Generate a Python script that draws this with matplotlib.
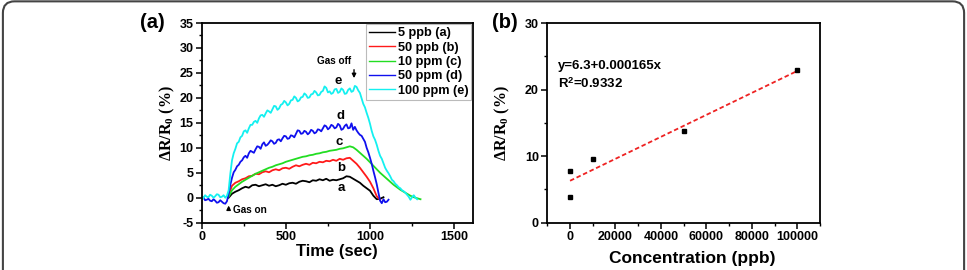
import numpy as np
import matplotlib
matplotlib.use("Agg")
import matplotlib.pyplot as plt
from matplotlib.patches import FancyBboxPatch
from matplotlib.ticker import MultipleLocator

plt.rcParams['font.family'] = ['Liberation Sans', 'DejaVu Sans']
plt.rcParams['font.weight'] = 'bold'
plt.rcParams['axes.unicode_minus'] = False
plt.rcParams['mathtext.fontset'] = 'custom'
plt.rcParams['mathtext.rm'] = 'Liberation Serif:bold'
plt.rcParams['mathtext.bf'] = 'Liberation Serif:bold'
plt.rcParams['mathtext.it'] = 'Liberation Serif:bold'

# ---------------- data (a) ----------------
series_labels = ["5 ppb (a)", "50 ppb (b)", "10 ppm (c)", "50 ppm (d)", "100 ppm (e)"]
series_colors = ["black", "#ff1a1a", "#22dd22", "#1010ee", "#14f0f0"]

t_a = np.arange(160, 1081, 20)
y_a = [0.0, 0.8, 1.2, 1.5, 1.9, 2.2, 2.0, 2.5, 2.6, 2.3, 2.5, 2.7, 2.4, 2.6, 2.3, 2.5,
       2.8, 2.6, 2.9, 3.0, 2.8, 3.2, 3.4, 3.3, 3.1, 3.5, 3.4, 3.7, 3.5, 3.8, 3.4, 3.6,
       3.5, 3.7, 3.9, 4.3, 4.2, 3.8, 3.4, 3.0, 2.4, 1.9, 1.4, 0.4, -0.3, -0.2, 0.1]

t_b = np.arange(160, 1061, 20)
y_b = [0.6, 2.4, 3.0, 3.3, 3.7, 3.9, 4.3, 4.4, 4.8, 4.7, 5.1, 5.3, 5.1, 5.5, 5.7, 5.5,
       5.9, 6.0, 5.8, 6.2, 6.5, 6.3, 6.6, 6.8, 6.6, 7.0, 6.9, 7.2, 7.1, 7.4, 7.3, 7.6,
       7.4, 7.8, 7.6, 7.9, 8.0, 7.4, 6.8, 6.0, 5.1, 4.2, 3.2, 1.9, 0.3, -0.4]

t_c = np.arange(160, 1301, 20)
y_c = [0.2, 1.5, 2.2, 2.7, 3.2, 3.6, 4.0, 4.4, 4.8, 5.1, 5.4, 5.7, 6.0, 6.2, 6.5, 6.7,
       6.9, 7.2, 7.4, 7.6, 7.8, 8.0, 8.2, 8.3, 8.5, 8.6, 8.8, 8.9, 9.1, 9.2, 9.4, 9.5,
       9.6, 9.8, 9.9, 10.1, 10.3, 10.1, 9.6, 9.0, 8.4, 7.8, 7.1, 6.4, 5.7, 5.0, 4.4,
       3.8, 3.2, 2.6, 2.1, 1.6, 1.2, 0.8, 0.4, 0.1, -0.1, -0.3]

t_d = np.arange(0, 1111, 10)
y_d = [-0.3, 0.1, -0.5, -0.4, -0.2, -0.6, -0.7, -0.3, -0.6, -1.0,
       -0.9, -0.5, -0.8, -1.1, -1.2, -0.7, 0.8, 2.6, 4.0, 5.1,
       5.6, 6.3, 6.6, 7.2, 7.5, 8.1, 8.4, 8.0, 8.9, 9.4,
       9.2, 9.0, 9.7, 10.3, 10.2, 9.8, 10.7, 11.1, 10.4, 10.6,
       11.0, 11.5, 11.3, 10.8, 11.0, 11.6, 11.7, 11.3, 11.9, 12.4,
       12.3, 11.8, 11.9, 12.5, 12.4, 12.1, 12.8, 13.5, 13.4, 12.8,
       12.9, 13.4, 13.2, 12.7, 13.0, 13.6, 13.4, 12.9, 13.1, 13.7,
       13.6, 13.3, 13.9, 14.5, 14.3, 13.7, 14.0, 14.6, 14.4, 13.9,
       14.1, 14.8, 14.5, 13.6, 13.8, 14.4, 14.7, 13.9, 14.0, 14.9,
       13.6, 14.2, 13.5, 13.0, 12.6, 12.4, 11.8, 11.2, 10.0, 9.1,
       8.0, 6.8, 5.4, 4.1, 2.7, 1.0, -0.6, -1.1, -0.3, -0.9,
       -0.8, -0.4]

t_e = np.arange(0, 1281, 10)
y_e = [0.2, -0.1, 0.5, 0.2, 0.1, 0.6, 0.4, 0.0, 0.3, 0.7,
       0.6, 0.1, 0.2, 0.5, 0.0, 0.4, 1.5, 4.8, 7.5, 8.9,
       9.8, 10.9, 11.2, 12.1, 12.4, 13.3, 13.5, 13.0, 13.9, 14.6,
       14.6, 15.2, 15.4, 15.0, 15.9, 16.5, 16.6, 16.2, 16.9, 17.5,
       17.3, 17.0, 17.7, 18.4, 18.3, 17.6, 17.9, 18.6, 18.8, 19.4,
       19.1, 18.5, 18.8, 19.5, 19.6, 20.3, 20.0, 19.3, 19.5, 20.1,
       20.2, 20.9, 20.6, 20.0, 20.1, 20.7, 20.8, 21.4, 21.1, 20.5,
       20.6, 21.2, 21.4, 22.3, 22.0, 21.1, 21.3, 20.8, 21.0, 21.7,
       21.8, 21.0, 21.2, 21.9, 21.6, 20.8, 20.9, 21.6, 21.9, 21.2,
       21.4, 22.4, 22.2, 21.5, 21.0, 19.9, 18.8, 18.1, 17.0, 16.0,
       14.8, 13.4, 12.3, 11.6, 10.6, 9.4, 8.4, 7.8, 6.9, 6.0,
       5.4, 4.9, 4.3, 3.6, 3.3, 2.8, 2.5, 2.1, 1.9, 1.5,
       1.3, 1.0, 0.6, 0.2, -0.4, 0.1, 0.5, 0.0, -0.3]

# ---------------- data (b) ----------------
conc_ppb = [5, 50, 10000, 50000, 100000]
response = [3.9, 7.7, 9.5, 13.8, 23.0]
fit_intercept = 6.3
fit_slope = 0.000165
fit_x = [0, 100000]

fig = plt.figure(figsize=(9.67, 2.70), dpi=100)

# border
border = FancyBboxPatch((0.003, -0.2), 0.994, 1.195, boxstyle="round,pad=0,rounding_size=0.012",
                        transform=fig.transFigure, fill=False, edgecolor="#444444", lw=1.5,
                        mutation_aspect=3.58)
fig.patches.append(border)

def style_axes(ax):
    for s in ax.spines.values():
        s.set_linewidth(1.3)
    ax.tick_params(which='major', direction='out', length=4, width=1.1, labelsize=9, pad=2)
    ax.tick_params(which='minor', direction='out', length=2.2, width=1.0)
    for lab in ax.get_xticklabels() + ax.get_yticklabels():
        lab.set_fontweight('bold')

ylab = r"$\Delta$R/R$_\mathregular{0}$ (%)"

# ---------------- panel (a) ----------------
axa = fig.add_axes([0.2086, 0.1752, 0.2802, 0.7396])
ts = [t_a, t_b, t_c, t_d, t_e]
ys = [y_a, y_b, y_c, y_d, y_e]
for t, y, c, lab in zip(ts, ys, series_colors, series_labels):
    axa.plot(t, y, color=c, lw=1.3, label=lab)
axa.set_xlim(0, 1610)
axa.set_ylim(-5, 35)
axa.xaxis.set_major_locator(MultipleLocator(500))
axa.xaxis.set_minor_locator(MultipleLocator(250))
axa.yaxis.set_major_locator(MultipleLocator(5))
axa.yaxis.set_minor_locator(MultipleLocator(2.5))
style_axes(axa)
axa.set_xlabel("Time (sec)", fontsize=12, fontweight='bold', labelpad=1)
axa.set_ylabel(ylab, fontsize=11.5, fontweight='bold',
               family=['Liberation Serif'], labelpad=2)
leg = axa.legend(loc='upper right', fontsize=9.2, frameon=True, fancybox=False,
                 edgecolor='#aaaaaa', handlelength=2.0, handletextpad=0.2,
                 labelspacing=0.18, borderpad=0.25, borderaxespad=0.1)
leg.get_frame().set_linewidth(0.8)
for lh in leg.get_lines():
    lh.set_linewidth(1.0)
for txt in leg.get_texts():
    txt.set_fontweight('bold')

axa.annotate("", xy=(160, -1.0), xytext=(160, -3.0),
             arrowprops=dict(arrowstyle='-|>', color='black', lw=1.0, mutation_scale=6))
axa.text(185, -2.5, "Gas on", fontsize=7.2, fontweight='bold', va='center', ha='left')
axa.annotate("", xy=(905, 23.4), xytext=(905, 26.2),
             arrowprops=dict(arrowstyle='-|>', color='black', lw=1.0, mutation_scale=6))
axa.text(890, 27.3, "Gas off", fontsize=7.2, fontweight='bold', va='center', ha='right')
for lab, tx, vy in zip(["a", "b", "c", "d", "e"], [830, 830, 818, 822, 812],
                       [1.9, 5.9, 11.2, 16.4, 23.3]):
    axa.text(tx, vy, lab, fontsize=9.5, fontweight='bold', ha='center', va='center')

fig.text(0.145, 0.915, "(a)", fontsize=14.5, fontweight='bold', va='center', ha='left')

# ---------------- panel (b) ----------------
axb = fig.add_axes([0.566, 0.1752, 0.282, 0.7396])
axb.plot(fit_x, [fit_intercept + fit_slope * x for x in fit_x], color='#ee2222',
         lw=1.3, ls=(0, (2.5, 1.5)))
axb.plot(conc_ppb, response, 's', color='black', ms=3.5)
axb.set_xlim(-10000, 110000)
axb.set_ylim(0, 30)
axb.xaxis.set_major_locator(MultipleLocator(20000))
axb.xaxis.set_minor_locator(MultipleLocator(10000))
axb.yaxis.set_major_locator(MultipleLocator(10))
axb.yaxis.set_minor_locator(MultipleLocator(5))
style_axes(axb)
axb.set_xlabel("Concentration (ppb)", fontsize=12.5, fontweight='bold', labelpad=1)
axb.xaxis.set_label_coords(0.53, -0.14)
axb.set_ylabel(ylab, fontsize=11.5, fontweight='bold',
               family=['Liberation Serif'], labelpad=9)
axb.text(-5500, 23.5, "y=6.3+0.000165x", fontsize=9.5, fontweight='bold', va='center')
axb.text(-5500, 20.8, r"R$^\mathregular{2}$=0.9332", fontsize=9.5, fontweight='bold',
         va='center', family=['Liberation Sans'])

fig.text(0.509, 0.915, "(b)", fontsize=14.5, fontweight='bold', va='center', ha='left')

fig.savefig("out.png", dpi=100)
